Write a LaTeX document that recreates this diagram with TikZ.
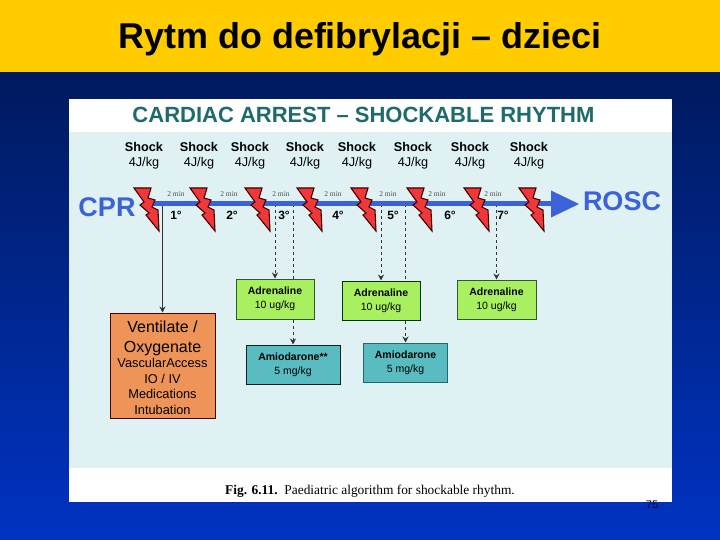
\documentclass[tikz,border=0pt]{standalone}
\usepackage{fontspec}
\usetikzlibrary{arrows.meta}
\setmainfont{Liberation Sans}
\newfontfamily\figfont{Liberation Serif}
\definecolor{band}{HTML}{FFCC00}
\definecolor{navy}{HTML}{001A5E}
\definecolor{royal}{HTML}{0033C2}
\definecolor{pale}{HTML}{DFF1F3}
\definecolor{teal}{HTML}{1F6A6A}
\definecolor{axis}{HTML}{3B62D6}
\definecolor{boltred}{HTML}{F2373A}
\definecolor{adr}{HTML}{A8F060}
\definecolor{amio}{HTML}{58BCC0}
\definecolor{vent}{HTML}{EF9458}
\definecolor{boxline}{HTML}{2F5A2F}
\begin{document}
\begin{tikzpicture}
[x=1pt,y=-1pt,>={Stealth[length=6pt,width=6pt]},
shocklabel/.style={align=center,inner sep=0pt,font=\fontsize{12.7}{15}\selectfont},
minlabel/.style={inner sep=0pt,text=black!70,font=\figfont\fontsize{7.5}{8}\selectfont},
phase/.style={inner sep=0pt,font=\bfseries\fontsize{12}{12}\selectfont},
drugbox/.style={draw=boxline,line width=1pt,align=center,inner sep=0pt,font=\fontsize{10.5}{14}\selectfont},
bigword/.style={inner sep=0pt,text=axis,font=\bfseries\fontsize{27}{27}\selectfont},
link/.style={->,line width=1pt,black!80},
pics/bolt/.style={code={
\draw[fill=boltred,draw=black!75!red,line width=1.1pt,line join=miter]
(0,0)--(17,0)--(14,10)--(21,12)--(18,19)--(24,22)--(25,43)--(12,27)--(15,25)--(6,17)--(10,14)--cycle;
}},]

%Background
\useasboundingbox (0,0) rectangle (720,540);
\shade[top color=navy,bottom color=royal] (0,72) rectangle (720,540);
\fill[band] (0,0) rectangle (720,72);
\fill[white] (69,99) rectangle (672,502);
\fill[pale] (69,132) rectangle (672,468);

%Titles
\node (title) at (360,39)[inner sep=0pt,font=\bfseries\fontsize{35.9}{36}\selectfont] {Rytm do defibrylacji -- dzieci};
\node (head) at (363.5,115)[inner sep=0pt,text=teal,font=\bfseries\fontsize{22}{22}\selectfont] {CARDIAC ARREST -- SHOCKABLE RHYTHM};

%Shock labels
\node (S1) at (144,156)[shocklabel] {\textbf{Shock}\\4J/kg};
\node (S2) at (199,156)[shocklabel] {\textbf{Shock}\\4J/kg};
\node (S3) at (250,156)[shocklabel] {\textbf{Shock}\\4J/kg};
\node (S4) at (305,156)[shocklabel] {\textbf{Shock}\\4J/kg};
\node (S5) at (357,156)[shocklabel] {\textbf{Shock}\\4J/kg};
\node (S6) at (413,156)[shocklabel] {\textbf{Shock}\\4J/kg};
\node (S7) at (470,156)[shocklabel] {\textbf{Shock}\\4J/kg};
\node (S8) at (529,156)[shocklabel] {\textbf{Shock}\\4J/kg};

%Ends of the time line
\node (CPR) at (107,207)[bigword] {CPR};
\node (ROSC) at (622,201)[bigword] {ROSC};
\coordinate (L) at (150,204);
\coordinate (N) at (551,204);
\coordinate (H) at (579,204);

%Points on the time line
\coordinate (T1) at (162.5,204);
\coordinate (T2) at (275,204);
\coordinate (T3) at (293,204);
\coordinate (T4) at (381,204);
\coordinate (T5) at (405.5,204);
\coordinate (T6) at (496.5,204);

%Boxes
\node (V) at (162.5,365.5)[draw=black!70!red,line width=1pt,fill=vent,minimum width=105pt,minimum height=105pt,align=center,inner sep=0pt,font=\fontsize{12.8}{15.5}\selectfont] {{\fontsize{16}{20}\selectfont\rule{0pt}{16pt}Ventilate /}\\[4pt]{\fontsize{16}{20}\selectfont Oxygenate}\\VascularAccess\\IO / IV\\Medications\\Intubation};
\node (A1) at (275,299)[drugbox,fill=adr,minimum width=78pt,minimum height=40pt] {\textbf{Adrenaline}\\10 ug/kg};
\node (A2) at (381,300.5)[drugbox,fill=adr,draw=black!80!green,minimum width=78pt,minimum height=39pt] {\textbf{Adrenaline}\\10 ug/kg};
\node (A3) at (496.5,299.5)[drugbox,fill=adr,minimum width=79pt,minimum height=39pt] {\textbf{Adrenaline}\\10 ug/kg};
\node (D1) at (293,364.5)[drugbox,fill=amio,draw=black!70!teal,minimum width=94pt,minimum height=39pt] {\textbf{Amiodarone**}\\5 mg/kg};
\node (D2) at (405.5,362.5)[drugbox,fill=amio,draw=teal,minimum width=84pt,minimum height=39pt] {\textbf{Amiodarone}\\5 mg/kg};

%Joining time line and boxes
\draw[link] (T1) -- (V);
\draw[link,dashed] (T2) -- (A1);
\draw[line width=1pt,black!80,dashed] (T3) -- (A1.north -| T3);
\draw[link,dashed] (A1.south -| T3) -- (D1);
\draw[link,dashed] (T4) -- (A2);
\draw[line width=1pt,black!80,dashed] (T5) -- (A2.north -| T5);
\draw[link,dashed] (A2.south -| T5) -- (D2);
\draw[link,dashed] (T6) -- (A3);

%Drawing time line
\draw[axis,line width=5pt] (L) -- (N);
\fill[axis] (551,190.5) -- (H) -- (551,217.5) -- cycle;

%Bolts
\pic at (134,188) {bolt};
\pic at (190,188) {bolt};
\pic at (245,188) {bolt};
\pic at (297,188) {bolt};
\pic at (351,188) {bolt};
\pic at (407,188) {bolt};
\pic at (464,188) {bolt};
\pic at (519,188) {bolt};

%Minutes
\node (M1) at (176,194)[minlabel] {2 min};
\node (M2) at (229,194)[minlabel] {2 min};
\node (M3) at (281,194)[minlabel] {2 min};
\node (M4) at (333,194)[minlabel] {2 min};
\node (M5) at (388,194)[minlabel] {2 min};
\node (M6) at (437,194)[minlabel] {2 min};
\node (M7) at (493,194)[minlabel] {2 min};

%Phases
\node (P1) at (176,215)[phase] {1°};
\node (P2) at (232,215)[phase] {2°};
\node (P3) at (284,215)[phase] {3°};
\node (P4) at (338,215)[phase] {4°};
\node (P5) at (393,215)[phase] {5°};
\node (P6) at (450,215)[phase] {6°};
\node (P7) at (503,215)[phase] {7°};

%Caption and page number
\node (F) at (370,491)[inner sep=0pt,font=\figfont\fontsize{13.4}{14}\selectfont] {\textbf{Fig. 6.11.}\enspace Paediatric algorithm for shockable rhythm.};
\node (Pg) at (652,505)[inner sep=0pt,text=black!80!blue,font=\fontsize{11}{11}\selectfont] {75};

\end{tikzpicture}
\end{document}
